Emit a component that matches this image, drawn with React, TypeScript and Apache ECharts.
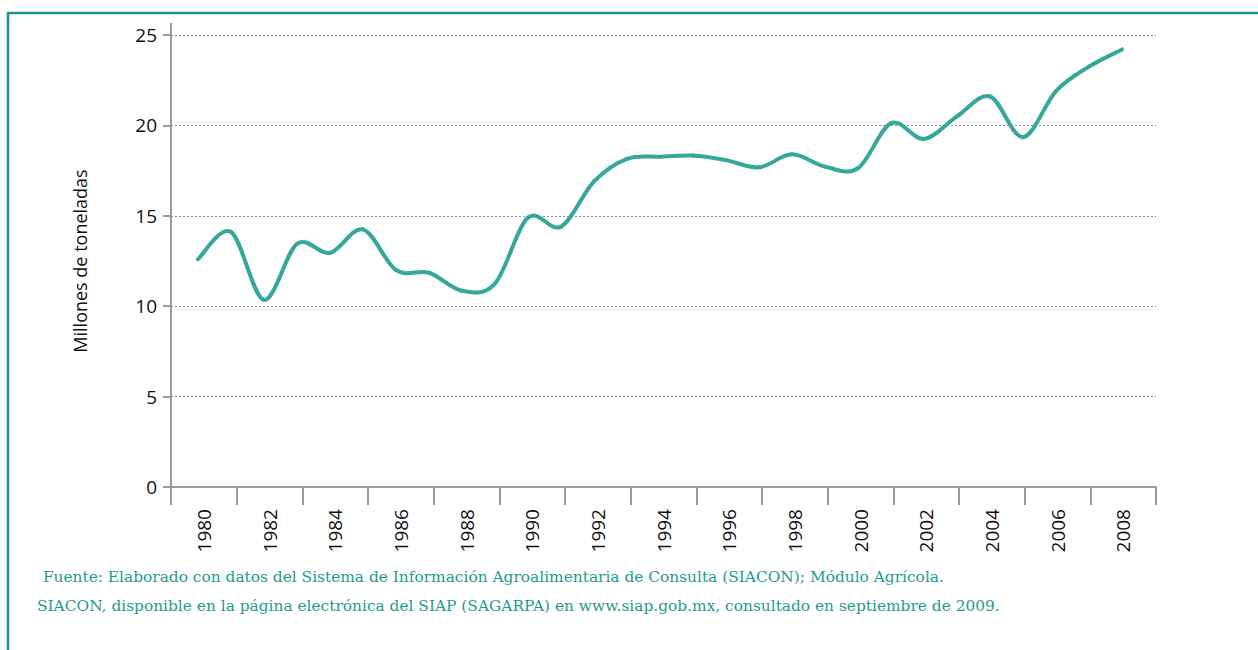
import React, { useEffect, useRef } from "react";
import * as echarts from "echarts";

const years = [
  1980, 1981, 1982, 1983, 1984, 1985, 1986, 1987, 1988, 1989,
  1990, 1991, 1992, 1993, 1994, 1995, 1996, 1997, 1998, 1999,
  2000, 2001, 2002, 2003, 2004, 2005, 2006, 2007, 2008,
];
const production = [
  12.6, 14.1, 10.35, 13.45, 12.95, 14.25, 12.0, 11.85, 10.85, 11.25,
  14.9, 14.4, 16.9, 18.15, 18.27, 18.33, 18.08, 17.68, 18.4, 17.72,
  17.63, 20.12, 19.25, 20.5, 21.6, 19.35, 21.9, 23.25, 24.2,
];
const tickLabels = [
  "1980", "1982", "1984", "1986", "1988", "1990", "1992", "1994",
  "1996", "1998", "2000", "2002", "2004", "2006", "2008",
];
const yTicks = [0, 5, 10, 15, 20, 25];
const yAxisName = "Millones de toneladas";
const sourceLine1 =
  " Fuente: Elaborado con datos del Sistema de Información Agroalimentaria de Consulta (SIACON); Módulo Agrícola.";
const sourceLine2 =
  "SIACON, disponible en la página electrónica del SIAP (SAGARPA) en www.siap.gob.mx, consultado en septiembre de 2009.";

export default function App() {
  const ref = useRef<HTMLDivElement>(null);
  useEffect(() => {
    if (!ref.current) return;
    const chart = echarts.init(ref.current, null, { renderer: "svg" });
    const axisGray = "#9a9a9e";
    const teal = "#1a9683";
    const lineColor = "#35a899";
    const footColor = "#1f9c8a";
    const n = years.length;
    const clampIdx = (j: number) => Math.max(0, Math.min(n - 1, j));

    chart.setOption({
      animation: false,
      backgroundColor: "#ffffff",
      grid: { left: 171, right: 102, top: 35, bottom: 163, containLabel: false },
      xAxis: [
        {
          type: "category",
          data: tickLabels,
          boundaryGap: true,
          position: "bottom",
          axisLine: { show: true, lineStyle: { color: axisGray, width: 2 } },
          axisTick: {
            show: true,
            interval: 0,
            length: 18,
            lineStyle: { color: axisGray, width: 2 },
          },
          axisLabel: {
            interval: 0,
            rotate: 90,
            margin: 22,
            color: "#111111",
            fontFamily: "Open Sans",
            fontSize: 19,
          },
          splitLine: { show: false },
        },
        {
          type: "value",
          min: 1979.182,
          max: 2009.03,
          show: false,
          position: "bottom",
          splitLine: { show: false },
        },
      ],
      yAxis: {
        type: "value",
        min: yTicks[0],
        max: yTicks[yTicks.length - 1],
        interval: 5,
        name: yAxisName,
        nameLocation: "middle",
        nameRotate: 90,
        nameGap: 82,
        nameTextStyle: {
          color: "#111111",
          fontFamily: "Open Sans",
          fontSize: 18,
        },
        axisLine: { show: true, lineStyle: { color: axisGray, width: 2 } },
        axisTick: { show: true, length: 8, lineStyle: { color: axisGray, width: 2 } },
        axisLabel: {
          margin: 14,
          color: "#111111",
          fontFamily: "Open Sans",
          fontSize: 19,
        },
        splitLine: {
          show: true,
          lineStyle: { color: "#8c8c8c", width: 1, type: [2, 2] },
        },
      },
      series: [
        {
          type: "custom",
          coordinateSystem: "cartesian2d",
          xAxisIndex: 1,
          yAxisIndex: 0,
          data: years.map((y, i) => [y, production[i]]),
          clip: false,
          z: 5,
          renderItem: (params: any, api: any) => {
            const i = params.dataIndex;
            if (i >= n - 1) return { type: "group", children: [] };
            const P = (j: number) => {
              const k = clampIdx(j);
              return api.coord([years[k], production[k]]);
            };
            const p0 = P(i - 1);
            const p1 = P(i);
            const p2 = P(i + 1);
            const p3 = P(i + 2);
            return {
              type: "bezierCurve",
              shape: {
                x1: p1[0],
                y1: p1[1],
                x2: p2[0],
                y2: p2[1],
                cpx1: p1[0] + (p2[0] - p0[0]) / 6,
                cpy1: p1[1] + (p2[1] - p0[1]) / 6,
                cpx2: p2[0] - (p3[0] - p1[0]) / 6,
                cpy2: p2[1] - (p3[1] - p1[1]) / 6,
              },
              style: {
                stroke: lineColor,
                lineWidth: 4,
                fill: null,
                lineCap: "round",
              },
            };
          },
        },
      ],
      graphic: [
        {
          type: "line",
          shape: { x1: 7, y1: 13, x2: 1258, y2: 13 },
          style: { stroke: teal, lineWidth: 2.5 },
        },
        {
          type: "line",
          shape: { x1: 8, y1: 12, x2: 8, y2: 650 },
          style: { stroke: teal, lineWidth: 2.5 },
        },
        {
          type: "line",
          shape: { x1: 171, y1: 23, x2: 171, y2: 36 },
          style: { stroke: axisGray, lineWidth: 2 },
        },
        {
          type: "text",
          x: 38,
          y: 577,
          style: {
            text: sourceLine1,
            fill: footColor,
            fontSize: 15.4,
            fontFamily: "DejaVu Serif",
            verticalAlign: "middle",
          },
        },
        {
          type: "text",
          x: 37,
          y: 606,
          style: {
            text: sourceLine2,
            fill: footColor,
            fontSize: 15.4,
            fontFamily: "DejaVu Serif",
            verticalAlign: "middle",
          },
        },
      ],
    });
    return () => chart.dispose();
  }, []);
  return (
    <div
      ref={ref}
      style={{ position: "fixed", left: 0, top: 0, width: 1258, height: 650 }}
    />
  );
}
